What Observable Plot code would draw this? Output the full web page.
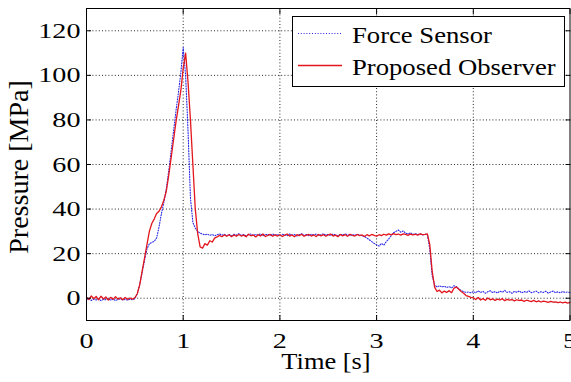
<!DOCTYPE html>
<html>
<head>
<meta charset="utf-8">
<script src="https://cdn.jsdelivr.net/npm/d3@7"></script>
<script src="https://cdn.jsdelivr.net/npm/@observablehq/plot@0.6"></script>
<style>
  html, body { margin: 0; padding: 0; background: #fff; }
  #chart { width: 571px; height: 382px; overflow: hidden; }
  #chart svg text { font-family: 'Liberation Serif', 'Times New Roman', serif; }
</style>
</head>
<body>
<div id="chart"></div>
<script>
// ---- data ----
const time = [
  0,0.025,0.05,0.075,0.1,0.125,0.15,0.175,0.2,0.225,0.25,0.275,0.3,0.325,0.35,0.375,0.4,0.425,0.45,0.475,
  0.5,0.525,0.55,0.575,0.6,0.625,0.65,0.675,0.7,0.725,0.75,0.775,0.8,0.825,0.85,0.875,0.9,0.925,0.95,0.975,
  1,1.025,1.05,1.075,1.1,1.125,1.15,1.175,1.2,1.225,1.25,1.275,1.3,1.325,1.35,1.375,1.4,1.425,1.45,1.475,
  1.5,1.525,1.55,1.575,1.6,1.625,1.65,1.675,1.7,1.725,1.75,1.775,1.8,1.825,1.85,1.875,1.9,1.925,1.95,1.975,
  2,2.025,2.05,2.075,2.1,2.125,2.15,2.175,2.2,2.225,2.25,2.275,2.3,2.325,2.35,2.375,2.4,2.425,2.45,2.475,
  2.5,2.525,2.55,2.575,2.6,2.625,2.65,2.675,2.7,2.725,2.75,2.775,2.8,2.825,2.85,2.875,2.9,2.925,2.95,2.975,
  3,3.025,3.05,3.075,3.1,3.125,3.15,3.175,3.2,3.225,3.25,3.275,3.3,3.325,3.35,3.375,3.4,3.425,3.45,3.475,
  3.5,3.525,3.55,3.575,3.6,3.625,3.65,3.675,3.7,3.725,3.75,3.775,3.8,3.825,3.85,3.875,3.9,3.925,3.95,3.975,
  4,4.025,4.05,4.075,4.1,4.125,4.15,4.175,4.2,4.225,4.25,4.275,4.3,4.325,4.35,4.375,4.4,4.425,4.45,4.475,
  4.5,4.525,4.55,4.575,4.6,4.625,4.65,4.675,4.7,4.725,4.75,4.775,4.8,4.825,4.85,4.875,4.9,4.925,4.95,4.975,
  5
];
const forceSensor = [
  -0.6,-0.2,-1.0,-0.4,-0.8,-0.3,-1.1,-0.5,-0.7,-0.2,-0.9,-0.4,-1.0,-0.6,-0.3,-0.8,-0.5,-0.9,-0.4,-0.7,
  -0.3,2,6,11.5,17,22,24.5,25,25.5,27,32,38,43,49,57,66,75,84,92,101,
  112.5,100,75,45,34,31.5,30,29.2,28.8,28.4,28.8,28.2,28.6,28.0,28.5,28.9,28.3,28.7,28.1,28.6,
  28.0,28.7,28.3,28.9,28.2,28.6,27.9,28.5,28.8,28.1,28.6,28.3,28.9,28.0,28.5,28.7,28.2,28.8,28.3,28.6,
  28.1,28.7,28.4,28.0,28.8,28.3,28.6,27.9,28.5,28.9,28.2,28.6,28.0,28.7,28.4,28.8,28.1,28.5,28.9,28.3,
  28.6,28.2,28.8,28.4,28.0,28.7,28.3,28.9,28.5,28.1,28.6,28.2,28.7,28.3,28.0,27.6,27.0,26.2,25.4,24.6,
  24.0,23.4,24.6,23.8,25.4,26.6,28.0,29.4,30.0,30.6,29.6,30.2,29.2,28.8,29.4,28.6,29.0,28.5,28.9,28.4,
  28.7,28.5,22,10,6,5,5.6,5,5.4,4.8,5.2,4.6,5.6,5.2,4.2,3.4,3,2.6,2.8,2.4,
  3.0,2.4,3.3,2.6,3.1,2.2,2.9,3.4,2.5,3.0,2.3,3.2,2.7,3.5,2.6,2.9,2.2,3.1,2.6,3.3,
  2.4,3.0,2.6,3.3,2.5,2.8,3.2,2.4,2.9,2.6,3.1,2.3,2.8,3.2,2.5,2.9,2.4,3.0,2.6,2.8,
  2.5
];
const observer = [
  0.5,-0.6,1.0,-0.2,0.8,-0.7,0.9,-0.3,0.6,-0.8,0.4,-0.5,0.7,-0.4,0.2,-0.7,0.3,-0.5,0.1,-0.4,
  0.2,2,6,12,18,24,30,33.5,35.5,38,39,41,44,48,55,63,71,79,86,93,
  103,110,97,80,60,40,29,23,22.5,24.5,23.8,25.8,25.2,27,27.5,28.2,27.6,28.4,27.8,28.5,
  27.6,28.4,27.8,28.6,27.9,28.3,27.6,28.7,28.0,28.4,27.5,28.5,27.9,28.8,27.7,28.2,28.6,27.8,28.4,27.9,
  28.5,27.7,28.3,28.8,27.9,28.4,27.6,28.5,28.1,28.7,27.8,28.3,28.6,27.9,28.4,27.7,28.6,28.0,28.5,27.8,
  28.4,28.8,27.9,28.3,27.6,28.6,28.0,28.5,27.8,28.7,28.2,27.9,28.6,28.1,28.4,27.7,28.5,28.0,28.6,28.2,
  27.8,28.5,28.1,28.7,28.3,28.9,28.4,29.0,28.5,28.8,28.3,28.9,28.6,28.2,28.8,28.4,28.7,28.3,28.9,28.5,
  28.6,28.9,24,12,5,3,3.6,2.4,3.2,2.6,3.4,2.5,4.5,5,4,3,2.2,1.2,0.8,0.4,
  0.2,-0.6,0.3,-0.8,-0.2,-0.9,0.1,-0.7,-0.3,-1.0,-0.4,-0.8,-0.2,-1.1,-0.5,-0.9,-0.6,-1.2,-0.7,-1.0,
  -0.8,-1.4,-0.9,-1.2,-1.5,-1.0,-1.6,-1.2,-1.7,-1.3,-1.5,-1.9,-1.4,-1.8,-1.6,-2.0,-1.7,-2.1,-1.8,-2.2,
  -1.9
];
const xTicks = [0, 1, 2, 3, 4, 5];
const yTicks = [0, 20, 40, 60, 80, 100, 120];
const seriesNames = ["Force Sensor", "Proposed Observer"];
const xLabel = "Time [s]";
const yLabel = "Pressure [MPa]";

const sensorData = time.map((t, i) => ({t, v: forceSensor[i]}));
const observerData = time.map((t, i) => ({t, v: observer[i]}));

const BLUE = "#2626e6";
const RED = "#e3161d";
const FONT = "'Liberation Serif', 'Times New Roman', serif";

const grid = {stroke: "#000", strokeOpacity: 0.85, strokeDasharray: "1,2.2", strokeWidth: 1};
const fmt = d => String(d);

const svg = Plot.plot({
  width: 571,
  height: 382,
  marginLeft: 86,
  marginRight: 1.5,
  marginTop: 8,
  marginBottom: 62,
  style: `font-family: ${FONT}; background: #fff; color: #000; overflow: visible;`,
  x: {domain: [0, 5]},
  y: {domain: [-10, 130]},
  marks: [
    Plot.gridX(xTicks.filter(d => d > 0 && d < 5), grid),
    Plot.gridY(yTicks, grid),
    Plot.line(sensorData, {x: "t", y: "v", stroke: BLUE, strokeWidth: 1.1, strokeDasharray: "1,1.6"}),
    Plot.line(observerData, {x: "t", y: "v", stroke: RED, strokeWidth: 1.3}),
    Plot.frame({stroke: "#000", strokeWidth: 1}),
    Plot.axisX({ticks: xTicks, anchor: "bottom", tickSize: 0, tickPadding: 12, fontSize: 22, tickFormat: fmt, label: null}),
    Plot.axisY({ticks: yTicks, anchor: "left", tickSize: 0, tickPadding: 6, fontSize: 22, tickFormat: fmt, label: null}),
    Plot.axisX({ticks: xTicks, anchor: "bottom", tickSize: -5, tickFormat: () => "", label: null}),
    Plot.axisX({ticks: xTicks, anchor: "top", tickSize: -5, tickFormat: () => "", label: null}),
    Plot.axisY({ticks: yTicks, anchor: "left", tickSize: -5, tickFormat: () => "", label: null}),
    Plot.axisY({ticks: yTicks, anchor: "right", tickSize: -5, tickFormat: () => "", label: null})
  ]
});

// widen tick label glyphs like the reference
svg.querySelectorAll('g[aria-label="x-axis tick label"] text, g[aria-label="y-axis tick label"] text').forEach(el => {
  let tr = el.getAttribute("transform");
  if (!tr) {
    const x = el.getAttribute("x") || 0, y = el.getAttribute("y") || 0;
    el.removeAttribute("x"); el.removeAttribute("y");
    tr = `translate(${x},${y})`;
  }
  el.setAttribute("transform", tr + " scale(1.28,1)");
});

const s = d3.select(svg);
// axis labels
s.append("text")
  .attr("transform", "translate(326,369) scale(1.15,1)")
  .attr("text-anchor", "middle")
  .attr("font-size", 23)
  .attr("fill", "#000")
  .text(xLabel);
s.append("text")
  .attr("transform", "translate(28,167) rotate(-90)")
  .attr("text-anchor", "middle")
  .attr("font-size", 28)
  .attr("fill", "#000")
  .text(yLabel);

// legend
const lg = s.append("g");
lg.append("rect").attr("x", 292.5).attr("y", 16.5).attr("width", 272).attr("height", 70)
  .attr("fill", "#fff").attr("stroke", "#000").attr("stroke-width", 1);
lg.append("line").attr("x1", 298).attr("x2", 342).attr("y1", 33.5).attr("y2", 33.5)
  .attr("stroke", BLUE).attr("stroke-width", 1.1).attr("stroke-dasharray", "1,1.8");
lg.append("line").attr("x1", 298).attr("x2", 342).attr("y1", 65.5).attr("y2", 65.5)
  .attr("stroke", RED).attr("stroke-width", 1.3);
[[seriesNames[0], 43.3], [seriesNames[1], 74.5]].forEach(([name, y]) => {
  lg.append("text")
    .attr("transform", `translate(352,${y}) scale(1.16,1)`)
    .attr("text-anchor", "start")
    .attr("font-size", 23)
    .attr("fill", "#000")
    .text(name);
});

document.getElementById("chart").appendChild(svg);
</script>
</body>
</html>
